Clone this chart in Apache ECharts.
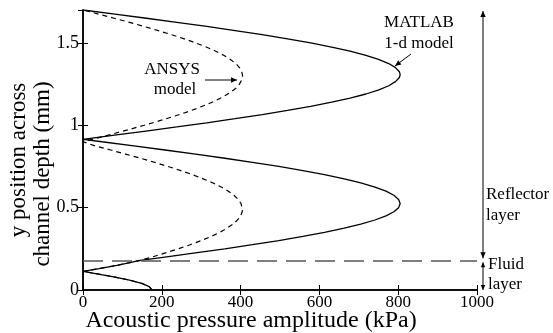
<!DOCTYPE html>
<html>
<head>
<meta charset="utf-8">
<script src="https://cdn.jsdelivr.net/npm/echarts@6/dist/echarts.min.js"></script>
<style>
  html, body { margin: 0; padding: 0; background: #fff; }
  #chart { width: 553px; height: 333px; }
</style>
</head>
<body>
<div id="chart"></div>
<script>
// fluid layer (shared by both models)
const fluidY = [0, 0.02, 0.04, 0.06, 0.08, 0.1, 0.113, 0.13, 0.15, 0.165, 0.18]
const fluidP = [175, 168, 149, 118, 78, 32, 0, 41, 86, 116, 145]

// reflector layer, MATLAB 1-d model
const matlabY = [0.2, 0.225, 0.25, 0.275, 0.3, 0.325, 0.35, 0.375, 0.4, 0.425, 0.45, 0.475, 0.5, 0.525,
    0.55, 0.575, 0.6, 0.625, 0.65, 0.675, 0.7, 0.725, 0.75, 0.775, 0.8, 0.825, 0.85, 0.875, 0.9, 0.915,
    0.94, 0.965, 0.99, 1.015, 1.04, 1.065, 1.09, 1.115, 1.14, 1.165, 1.19, 1.215, 1.24, 1.265, 1.29, 1.3075,
    1.325, 1.35, 1.375, 1.4, 1.425, 1.45, 1.475, 1.5, 1.525, 1.55, 1.575, 1.6, 1.625, 1.65, 1.675, 1.7]
const matlabP = [208, 285, 360, 430, 497, 558, 613, 663, 705, 741, 769, 789, 801, 805,
    801, 789, 769, 741, 705, 663, 613, 558, 497, 430, 360, 286, 208, 129, 48, 0,
    80, 160, 238, 314, 386, 455, 519, 578, 631, 678, 718, 751, 776, 793, 803, 805,
    803, 793, 776, 750, 718, 678, 631, 578, 519, 455, 386, 314, 238, 161, 81, 0]

// reflector layer, ANSYS model
const ansysY = [0.2, 0.225, 0.25, 0.275, 0.3, 0.325, 0.35, 0.375, 0.4, 0.425, 0.45, 0.475, 0.49,
    0.5, 0.525, 0.55, 0.575, 0.6, 0.625, 0.65, 0.675, 0.7, 0.725, 0.75, 0.775, 0.8, 0.825, 0.85, 0.875, 0.9,
    0.925, 0.95, 0.975, 1.0, 1.025, 1.05, 1.075, 1.1, 1.125, 1.15, 1.175, 1.2, 1.225, 1.25, 1.275, 1.3,
    1.325, 1.35, 1.375, 1.4, 1.425, 1.45, 1.475, 1.5, 1.525, 1.55, 1.575, 1.6, 1.625, 1.65, 1.675, 1.7]
const ansysP = [175, 209, 242, 272, 300, 325, 347, 365, 381, 392, 400, 404, 405,
    405, 401, 394, 383, 369, 351, 330, 305, 278, 248, 216, 182, 146, 108, 70, 31, 0,
    40, 79, 118, 155, 191, 225, 257, 286, 313, 337, 357, 374, 388, 397, 403, 405,
    403, 397, 388, 374, 357, 337, 313, 286, 257, 225, 191, 155, 118, 79, 40, 0]

const layerBoundary = 0.18
const xTicks = [0, 1000, 200]   // min, max, step
const yTicks = [0, 1.7, 0.5]

const font = 'Liberation Serif, Times New Roman, serif'

const pts = (ys, ps) => ys.map((y, i) => [ps[i], y])
const matlabData = pts(fluidY, fluidP).concat(pts(matlabY, matlabP))
const ansysData = pts(fluidY, fluidP).concat(pts(ansysY, ansysP))

const chart = echarts.init(document.getElementById('chart'), null, { renderer: 'canvas' })

const axisLine = { show: true, lineStyle: { color: '#000', width: 1.5 } }
const tick = { show: true, inside: true, length: 5, lineStyle: { color: '#000', width: 1 } }

chart.setOption({
    animation: false,
    backgroundColor: '#fff',
    grid: { left: 83, right: 76, top: 10, bottom: 43, containLabel: false, outerBoundsMode: 'none' },
    xAxis: [{
        type: 'value', position: 'bottom',
        min: xTicks[0], max: xTicks[1], interval: xTicks[2],
        axisLine, axisTick: tick, splitLine: { show: false },
        axisLabel: { color: '#000', fontFamily: font, fontSize: 17, margin: 4, formatter: v => String(v) }
    }, {
        type: 'value', position: 'top',
        min: xTicks[0], max: xTicks[1], interval: xTicks[2],
        axisLine, axisTick: tick, splitLine: { show: false }, axisLabel: { show: false }
    }],
    yAxis: [{
        type: 'value', position: 'left',
        min: yTicks[0], max: yTicks[1], interval: yTicks[2],
        axisLine, axisTick: tick, splitLine: { show: false },
        axisLabel: { color: '#000', fontFamily: font, fontSize: 18, margin: 4, showMaxLabel: false }
    }, {
        type: 'value', position: 'right',
        min: yTicks[0], max: yTicks[1], interval: yTicks[2],
        axisLine, axisTick: tick, splitLine: { show: false }, axisLabel: { show: false }
    }],
    series: [{
        name: 'MATLAB 1-d model', type: 'line', data: matlabData,
        showSymbol: false, symbol: 'none', smooth: false,
        lineStyle: { color: '#000', width: 1.3 },
        markLine: {
            silent: true, symbol: 'none', label: { show: false },
            lineStyle: { color: '#555', width: 1.5, type: [20, 9] },
            data: [{ yAxis: layerBoundary }]
        }
    }, {
        name: 'ANSYS model', type: 'line', data: ansysData,
        showSymbol: false, symbol: 'none', smooth: false,
        lineStyle: { color: '#000', width: 1.2, type: [5, 4] }
    }]
})

function arrow(x1, y1, x2, y2, size, both) {
    const head = (tx, ty, fx, fy) => {
        const a = Math.atan2(ty - fy, tx - fx)
        const w = size * 0.45
        return {
            type: 'polygon',
            shape: {
                points: [[tx, ty],
                [tx - size * Math.cos(a) + w * Math.sin(a), ty - size * Math.sin(a) - w * Math.cos(a)],
                [tx - size * Math.cos(a) - w * Math.sin(a), ty - size * Math.sin(a) + w * Math.cos(a)]]
            },
            style: { fill: '#000' }
        }
    }
    const els = [{ type: 'line', shape: { x1, y1, x2, y2 }, style: { stroke: '#000', lineWidth: 1 } }, head(x2, y2, x1, y1)]
    if (both) els.push(head(x1, y1, x2, y2))
    return els
}

const text = (x, y, t, size, rot, align) => ({
    type: 'text', x, y, rotation: rot || 0,
    style: { text: t, fill: '#000', font: size + 'px ' + font, textAlign: align || 'center', textVerticalAlign: 'middle' }
})

const yb = chart.convertToPixel({ yAxisIndex: 0 }, layerBoundary)
const yTop = chart.convertToPixel({ yAxisIndex: 0 }, yTicks[1])
const yBot = chart.convertToPixel({ yAxisIndex: 0 }, 0)

chart.setOption({
    graphic: [
        text(251, 321, 'Acoustic pressure amplitude (kPa)', 24),
        text(19, 160, 'y position across', 23, Math.PI / 2),
        text(43, 174, 'channel depth (mm)', 23, Math.PI / 2),
        text(419, 23, 'MATLAB', 17),
        text(419, 44, '1-d model', 17),
        text(172, 70, 'ANSYS', 17),
        text(175, 90, 'model', 17),
        text(486, 195, 'Reflector', 17, 0, 'left'),
        text(486, 216, 'layer', 17, 0, 'left'),
        text(488, 265, 'Fluid', 17, 0, 'left'),
        text(488, 285, 'layer', 17, 0, 'left'),
        ...arrow(411, 54, 395, 66, 6),
        ...arrow(205, 80, 237, 80, 6),
        ...arrow(483, yb - 2, 483, yTop + 1, 6, true),
        ...arrow(483, yb + 2, 483, yBot, 5, true)
    ]
})
</script>
</body>
</html>
